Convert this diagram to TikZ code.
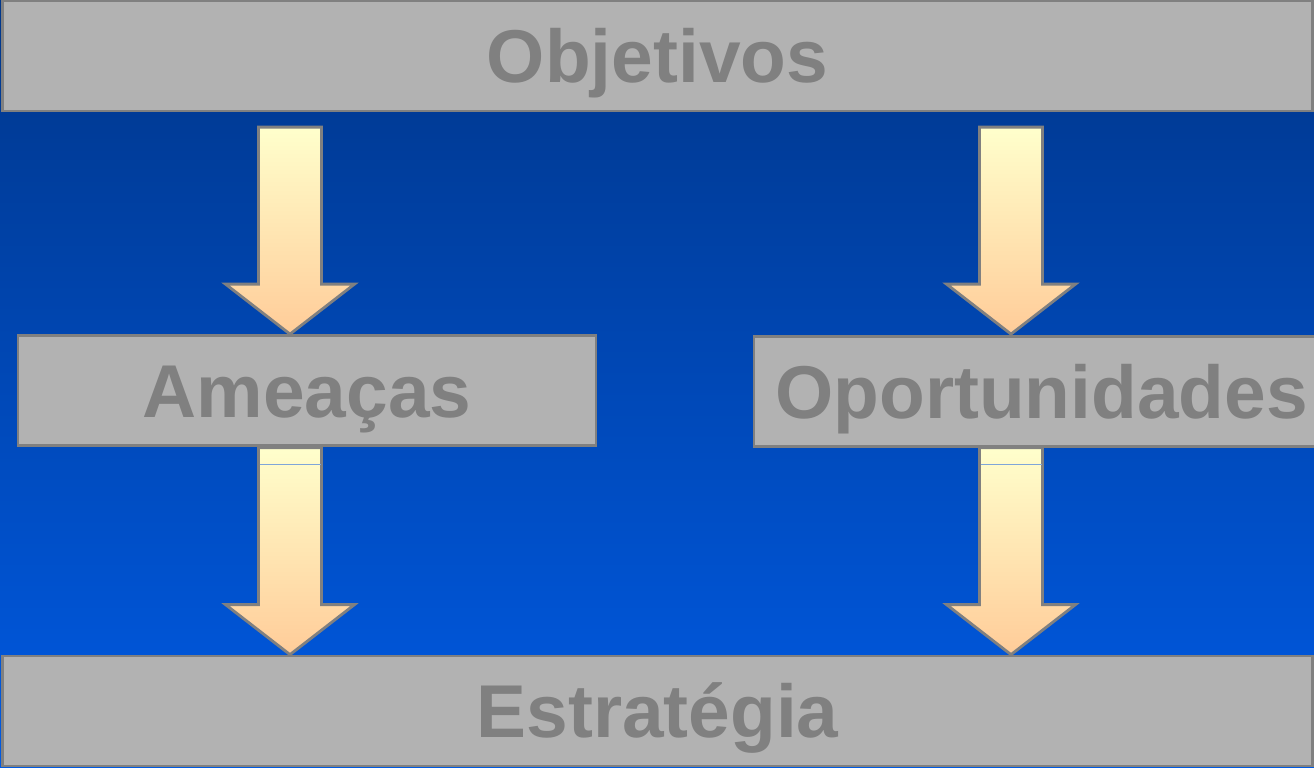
\documentclass[tikz,border=0pt]{standalone}
\usepackage{fontspec}
\setmainfont{Liberation Sans}
\usetikzlibrary{positioning, calc}

\definecolor{boxgray}{HTML}{B2B2B2}
\definecolor{edgegray}{HTML}{808080}
\definecolor{bgtop}{HTML}{00368A}
\definecolor{bgbottom}{HTML}{005AE3}
\definecolor{arrtop}{HTML}{FFFFCC}
\definecolor{arrbottom}{HTML}{FFCC99}
\definecolor{seam}{HTML}{7FA6D9}

\tikzset{
    box/.style={draw=edgegray, line width=1.6pt, fill=boxgray, text=edgegray,
        font=\fontsize{42.6}{50}\selectfont\bfseries, inner sep=0pt,
        text height=30.5pt, text depth=0pt, minimum height=2.2cm},
    arrowbody/.style={draw=edgegray, line width=1.6pt, top color=arrtop, bottom color=arrbottom},
    blockarrow/.pic={
        \path[arrowbody] (0,0) -- (-64.5,-50) -- (-31.5,-50) -- (-31.5,-207)
            -- (31.5,-207) -- (31.5,-50) -- (64.5,-50) -- cycle;
    }
}

\begin{document}
\begin{tikzpicture}[x=0.02cm, y=-0.02cm]
            \useasboundingbox (0,0) rectangle (1314,767);
            \clip (0,0) rectangle (1314,767);
            \shade[top color=bgtop, bottom color=bgbottom] (0,0) rectangle (1314,767);

            \node[box, minimum width=26.22cm] (obj) at (657.5, 56) {Objetivos};
            \node[box, minimum width=11.56cm] (ame) at (307, 390.5) {Ameaças};
            \node[box, minimum width=11.5cm] (opo) at (1041.5, 391.5) {Oportunidades};
            \node[box, minimum width=26.22cm] (est) at (657.5, 711) {Estratégia};

            \coordinate (colL) at (290, 0);
            \coordinate (colR) at (1011, 0);

            \pic at (colL |- ame.north) {blockarrow};
            \pic at (colR |- ame.north) {blockarrow};
            \pic at (colL |- est.north) {blockarrow};
            \pic at (colR |- est.north) {blockarrow};

            \draw [seam, line width=0.6pt] ($(colL |- ame.south)+(-30.5,18)$) -- ++(61,0);
            \draw [seam, line width=0.6pt] ($(colR |- ame.south)+(-30.5,18)$) -- ++(61,0);
        \end{tikzpicture}
\end{document}
